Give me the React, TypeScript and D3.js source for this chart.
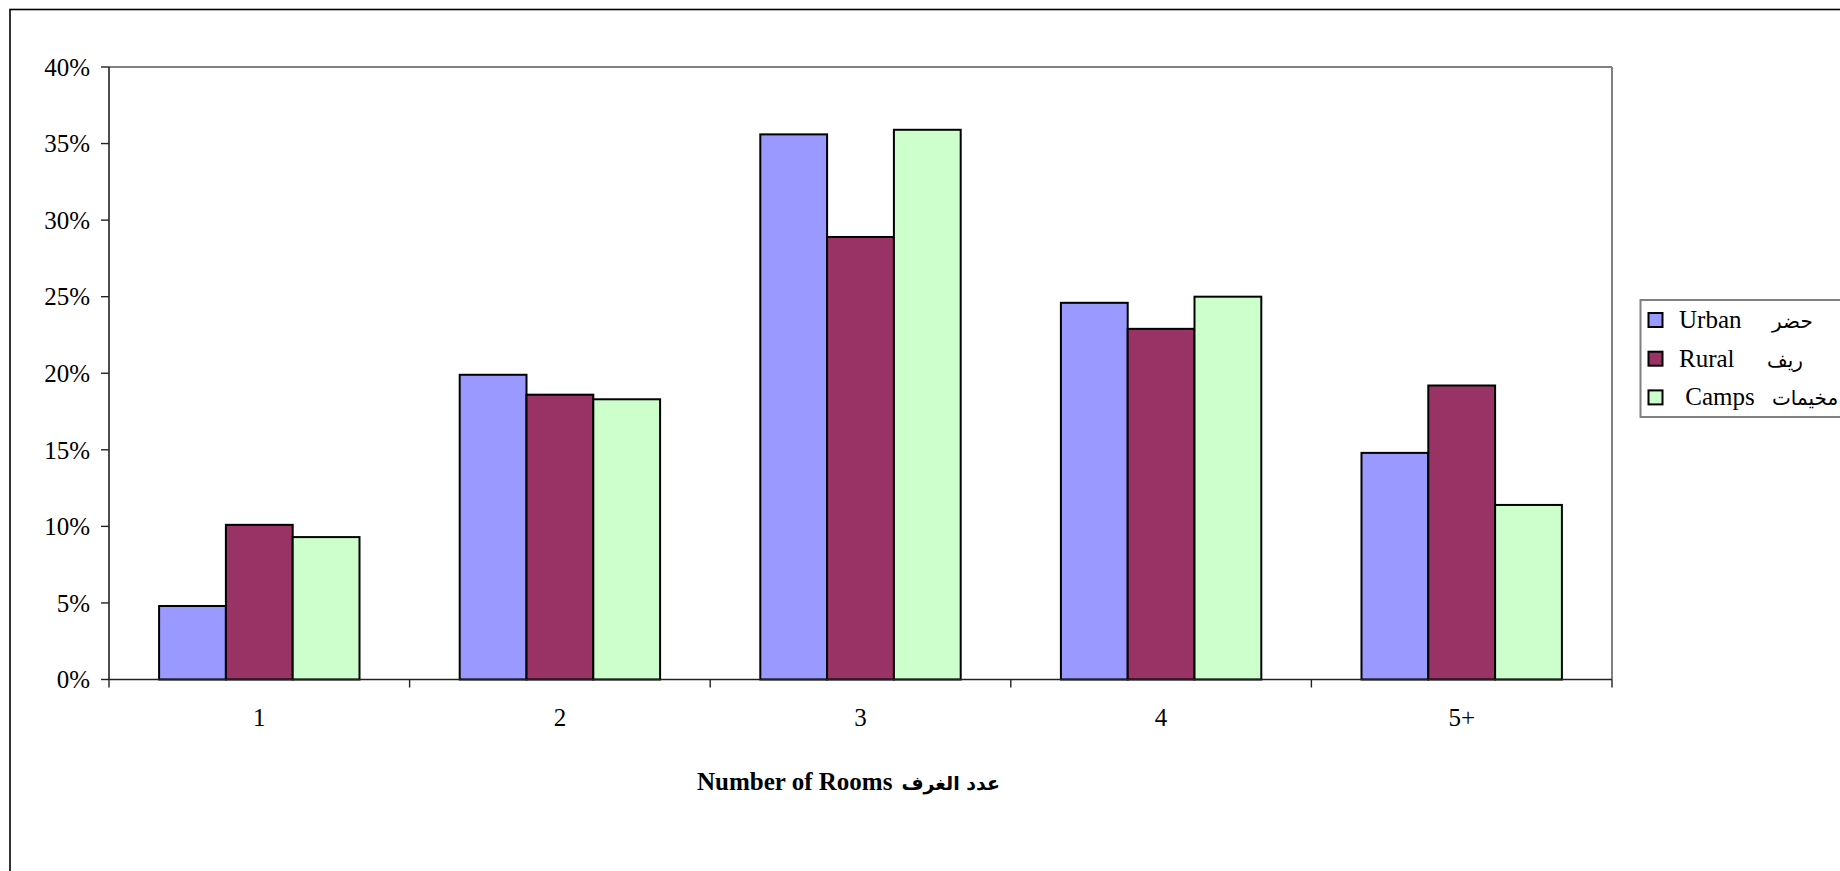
import React from "react";
import * as d3 from "d3";

const categories = ["1", "2", "3", "4", "5+"];
const seriesKeys = ["urban", "rural", "camps"];
const seriesEn = ["Urban", "Rural", " Camps"];
const seriesAr = ["حضر", "ريف", "مخيمات"];
const urban = [4.8, 19.9, 35.6, 24.6, 14.8];
const rural = [10.1, 18.6, 28.9, 22.9, 19.2];
const camps = [9.3, 18.3, 35.9, 25.0, 11.4];
const colors = ["#9999FF", "#993366", "#CCFFCC"];
const yTicks = [0, 5, 10, 15, 20, 25, 30, 35, 40];
const xTitleEn = "Number of Rooms";
const xTitleAr = "عدد الغرف";

const W = 1840;
const H = 871;
const plot = { left: 109, right: 1612, top: 67, bottom: 679.5 };
const FONT = "'Liberation Serif', 'Times New Roman', 'DejaVu Serif', 'DejaVu Sans', serif";
const AR_FONT = "'DejaVu Sans', 'Noto Sans', sans-serif";

export default function App() {
  const values = [urban, rural, camps];
  const x0 = d3.scaleBand<string>().domain(categories).range([plot.left, plot.right]).paddingInner(0).paddingOuter(0);
  const x1 = d3.scaleBand<string>().domain(seriesKeys).range([0, x0.bandwidth()]).paddingInner(0).paddingOuter(0.75);
  const y = d3.scaleLinear().domain([0, 40]).range([plot.bottom, plot.top]);
  const boundaries = [...categories.map((c) => x0(c) as number), plot.right];
  const arX = [1772, 1767, 1772];

  return (
    <div style={{ position: "absolute", left: 0, top: 0 }}>
      <svg width={W} height={H} style={{ display: "block", fontFamily: FONT }}>
        <rect x={0} y={0} width={W} height={H} fill="#fff" />
        {/* outer chart frame */}
        <rect x={10} y={9.5} width={2000} height={2000} fill="none" stroke="#000" strokeWidth={1.6} />
        {/* plot area border (top/right) */}
        <line x1={plot.left} x2={plot.right} y1={plot.top} y2={plot.top} stroke="#808080" strokeWidth={2} />
        <line x1={plot.right} x2={plot.right} y1={plot.top} y2={plot.bottom} stroke="#808080" strokeWidth={2} />
        {/* bars */}
        {values.map((vals, si) =>
          vals.map((v, ci) => {
            const bx = (x0(categories[ci]) as number) + (x1(seriesKeys[si]) as number);
            return (
              <rect
                key={`${si}-${ci}`}
                x={bx}
                y={y(v)}
                width={x1.bandwidth()}
                height={y(0) - y(v)}
                fill={colors[si]}
                stroke="#000"
                strokeWidth={2}
              />
            );
          })
        )}
        {/* y axis */}
        <line x1={plot.left} x2={plot.left} y1={plot.top} y2={plot.bottom} stroke="#222" strokeWidth={1.6} />
        {yTicks.map((t) => (
          <g key={t}>
            <line x1={plot.left - 8} x2={plot.left} y1={y(t)} y2={y(t)} stroke="#222" strokeWidth={1.4} />
            <text x={90} y={y(t)} dy="0.35em" textAnchor="end" fontSize={25} fill="#000">
              {`${t}%`}
            </text>
          </g>
        ))}
        {/* x axis */}
        <line x1={plot.left} x2={plot.right} y1={plot.bottom} y2={plot.bottom} stroke="#222" strokeWidth={1.6} />
        {boundaries.map((bx, i) => (
          <line key={i} x1={bx} x2={bx} y1={plot.bottom} y2={plot.bottom + 8} stroke="#222" strokeWidth={1.4} />
        ))}
        {categories.map((c) => (
          <text key={c} x={(x0(c) as number) + x0.bandwidth() / 2} y={726} textAnchor="middle" fontSize={25} fill="#000">
            {c}
          </text>
        ))}
        <text x={697} y={790} fontSize={25} fontWeight="bold" fill="#000">
          {xTitleEn}
        </text>
        <text x={1000} y={790} textAnchor="end" fontSize={19} fontWeight="bold" fill="#000" fontFamily={AR_FONT}>
          {xTitleAr}
        </text>
        {/* legend */}
        <rect x={1640.5} y={300} width={260} height={117} fill="#fff" stroke="#808080" strokeWidth={2} />
        {seriesEn.map((name, i) => {
          const cy = 320 + i * 38.7;
          return (
            <g key={name}>
              <rect x={1648.5} y={cy - 7} width={14} height={14} fill={colors[i]} stroke="#000" strokeWidth={2} />
              <text x={1679} y={cy + 8} fontSize={25} fill="#000" style={{ whiteSpace: "pre" }}>
                {name}
              </text>
              <text x={arX[i]} y={cy + 8} fontSize={20} fill="#000" fontFamily={AR_FONT}>
                {seriesAr[i]}
              </text>
            </g>
          );
        })}
      </svg>
    </div>
  );
}
